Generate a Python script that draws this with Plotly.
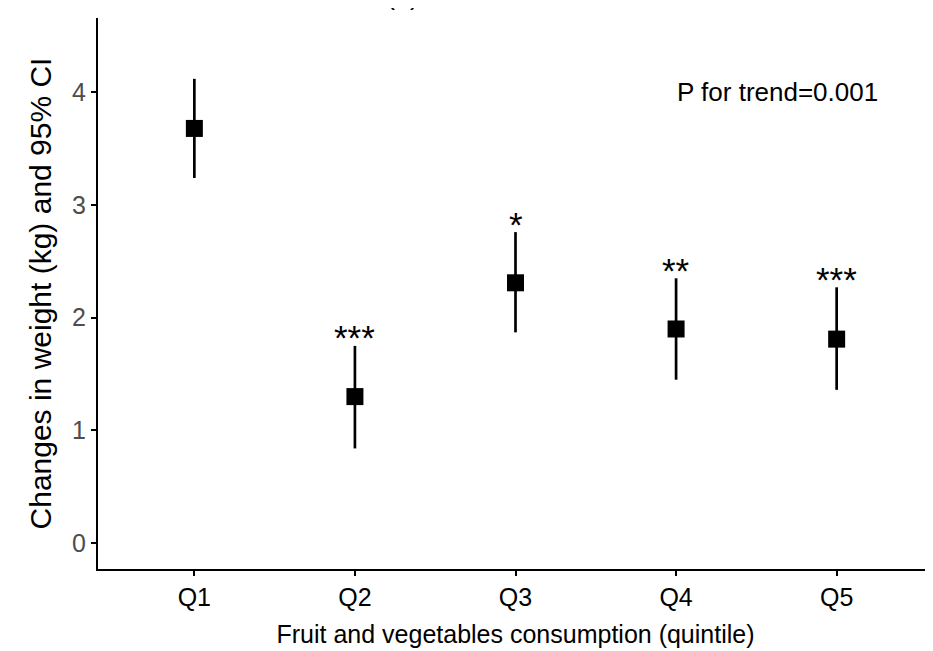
import plotly.graph_objects as go

categories = ["Q1", "Q2", "Q3", "Q4", "Q5"]
mean = [3.68, 1.30, 2.31, 1.90, 1.81]
lower = [3.24, 0.84, 1.87, 1.45, 1.36]
upper = [4.12, 1.75, 2.76, 2.35, 2.27]
stars = ["", "***", "*", "**", "***"]
y_ticks = [0, 1, 2, 3, 4]

FONT = "Liberation Sans, Arial, Helvetica, sans-serif"

fig = go.Figure()
fig.add_trace(go.Scatter(
    x=categories, y=mean, mode="markers",
    marker=dict(symbol="square", size=17, color="black", line=dict(width=0)),
    error_y=dict(type="data", symmetric=False,
                 array=[u - m for u, m in zip(upper, mean)],
                 arrayminus=[m - l for m, l in zip(mean, lower)],
                 width=0, thickness=2.7, color="black"),
    showlegend=False,
))

for c, u, s in zip(categories, upper, stars):
    if s:
        fig.add_annotation(x=c, y=u, text=s, showarrow=False,
                           yanchor="middle", yshift=8,
                           font=dict(family=FONT, size=35, color="black"))

fig.add_annotation(x=3.63, y=4.0, xref="x", yref="y", text="P for trend=0.001",
                   showarrow=False, xanchor="center", yanchor="middle",
                   font=dict(family=FONT, size=26, color="black"))

fig.add_annotation(x=0.365, y=1, xref="paper", yref="paper", text="(a)",
                   showarrow=False, xanchor="center", yanchor="bottom", yshift=6,
                   font=dict(family=FONT, size=27, color="black"))

fig.update_layout(
    width=925, height=643,
    margin=dict(l=90, r=0, t=10, b=82),
    paper_bgcolor="white", plot_bgcolor="white",
    font=dict(family=FONT, color="black"),
)
fig.update_xaxes(
    type="category", range=[-0.6, 4.6],
    showline=True, linecolor="black", linewidth=2,
    ticks="outside", ticklen=5, tickwidth=2, tickcolor="black",
    showgrid=False, zeroline=False,
    tickfont=dict(family=FONT, size=25, color="black"),
    title=dict(text="Fruit and vegetables consumption (quintile)",
               font=dict(family=FONT, size=25, color="black"), standoff=15),
)
fig.update_yaxes(
    range=[-0.23, 4.66], tickvals=y_ticks,
    showline=True, linecolor="black", linewidth=2,
    ticks="outside", ticklen=5, tickwidth=2, tickcolor="black",
    showgrid=False, zeroline=False,
    tickfont=dict(family=FONT, size=25, color="#4D4D4D"),
    title=dict(text="Changes in weight (kg) and 95% CI",
               font=dict(family=FONT, size=30, color="black"), standoff=12),
)

fig.write_html("out.html")
